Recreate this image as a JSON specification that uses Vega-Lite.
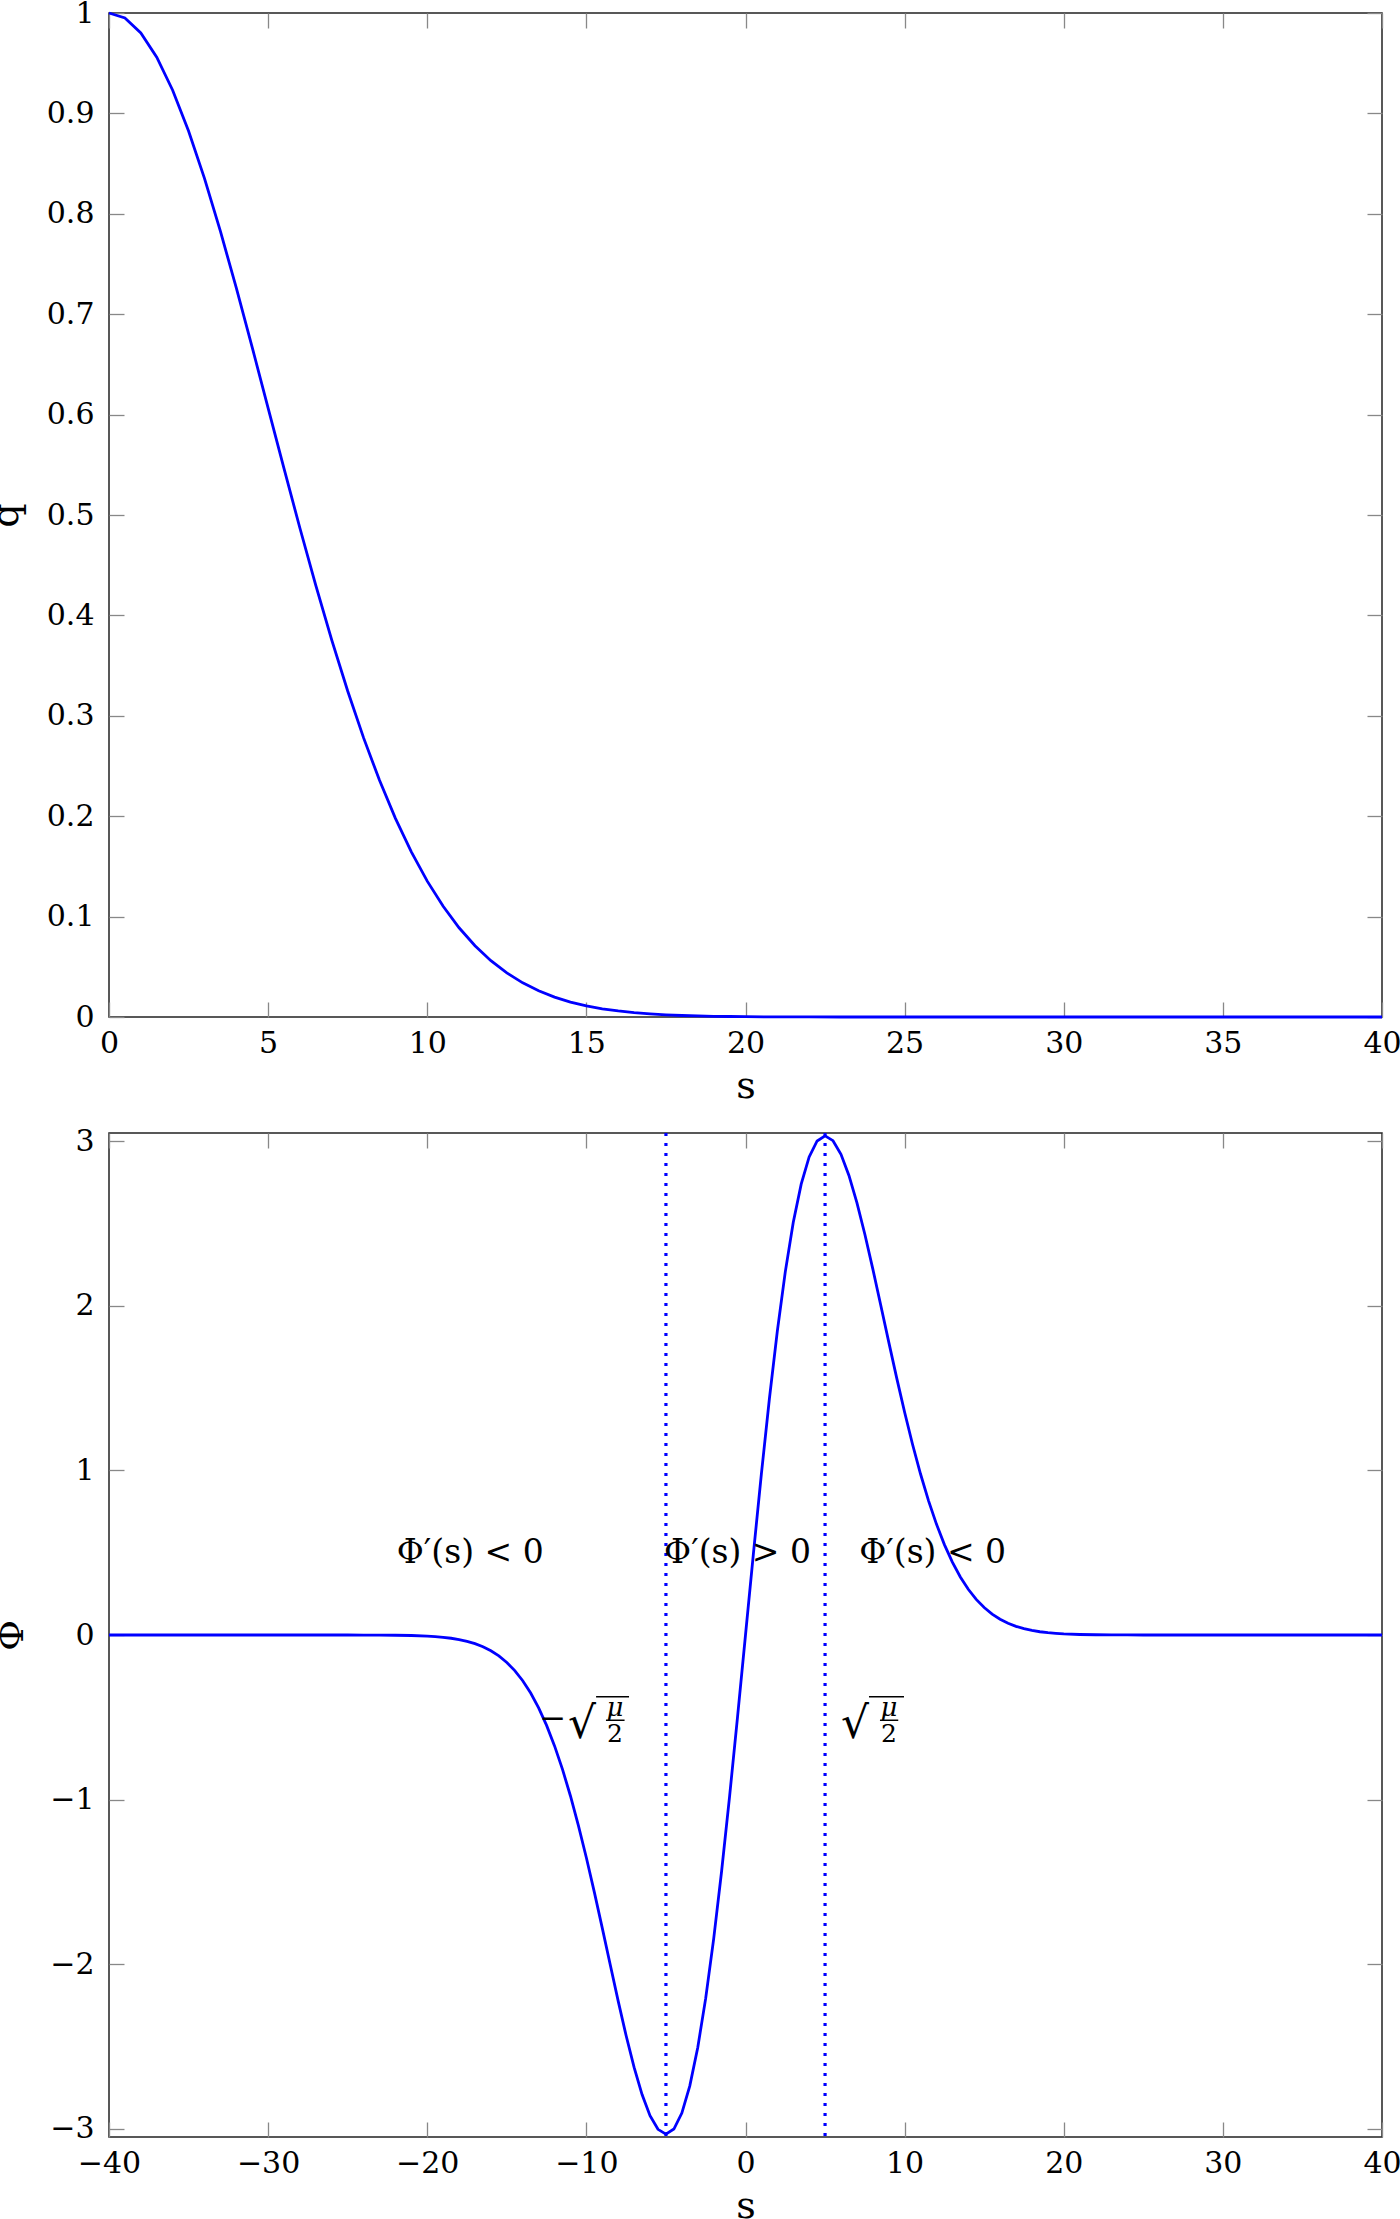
{
  "$schema": "https://vega.github.io/schema/vega-lite/v6.json",
  "padding": {"left": -14, "top": -3, "right": 0, "bottom": 0},
  "spacing": 116,
  "bounds": "flush",
  "config": {
    "view": {"stroke": "#222", "strokeWidth": 1.5},
    "font": "DejaVu Serif",
    "axis": {"domain": false, "grid": false, "ticks": true, "tickSize": -15, "tickColor": "#888", "tickWidth": 1.3,
      "labelFont": "DejaVu Serif", "labelFontSize": 30, "labelColor": "black", "labelFlush": false, "labelOverlap": false,
      "titleFont": "DejaVu Serif", "titleFontSize": 38, "titleFontWeight": "normal", "titleColor": "black"}
  },
  "datasets": {
    "q": [
      {"s": 0, "q": 1}, {"s": 0.5, "q": 0.995}, {"s": 1, "q": 0.9802}, {"s": 1.5, "q": 0.956}, {"s": 2, "q": 0.9231},
      {"s": 2.5, "q": 0.8825}, {"s": 3, "q": 0.8353}, {"s": 3.5, "q": 0.7827}, {"s": 4, "q": 0.7261}, {"s": 4.5, "q": 0.667},
      {"s": 5, "q": 0.6065}, {"s": 5.5, "q": 0.5461}, {"s": 6, "q": 0.4868}, {"s": 6.5, "q": 0.4296}, {"s": 7, "q": 0.3753},
      {"s": 7.5, "q": 0.3247}, {"s": 8, "q": 0.278}, {"s": 8.5, "q": 0.2357}, {"s": 9, "q": 0.1979}, {"s": 9.5, "q": 0.1645},
      {"s": 10, "q": 0.1353}, {"s": 10.5, "q": 0.1103}, {"s": 11, "q": 0.0889}, {"s": 11.5, "q": 0.071}, {"s": 12, "q": 0.0561},
      {"s": 12.5, "q": 0.0439}, {"s": 13, "q": 0.034}, {"s": 13.5, "q": 0.0261}, {"s": 14, "q": 0.0198}, {"s": 14.5, "q": 0.0149},
      {"s": 15, "q": 0.0111}, {"s": 15.5, "q": 0.0082}, {"s": 16, "q": 0.006}, {"s": 16.5, "q": 0.0043}, {"s": 17, "q": 0.0031},
      {"s": 17.5, "q": 0.0022}, {"s": 18, "q": 0.0015}, {"s": 18.5, "q": 0.0011}, {"s": 19, "q": 0.0007}, {"s": 19.5, "q": 0.0005},
      {"s": 20, "q": 0.0003}, {"s": 21, "q": 0.0001}, {"s": 22, "q": 0.0001}, {"s": 23, "q": 0}, {"s": 25, "q": 0},
      {"s": 30, "q": 0}, {"s": 35, "q": 0}, {"s": 40, "q": 0}
    ],
    "phi": [
      {"s": -40, "phi": 0}, {"s": -35, "phi": 0}, {"s": -30, "phi": 0}, {"s": -26, "phi": 0}, {"s": -25, "phi": -0.0001},
      {"s": -24, "phi": -0.0002}, {"s": -23, "phi": -0.0006}, {"s": -22, "phi": -0.0014}, {"s": -21, "phi": -0.0031}, {"s": -20, "phi": -0.0067},
      {"s": -19.5, "phi": -0.0098}, {"s": -19, "phi": -0.0139}, {"s": -18.5, "phi": -0.0198}, {"s": -18, "phi": -0.0277}, {"s": -17.5, "phi": -0.0383},
      {"s": -17, "phi": -0.0525}, {"s": -16.5, "phi": -0.0713}, {"s": -16, "phi": -0.0957}, {"s": -15.5, "phi": -0.1269}, {"s": -15, "phi": -0.1667},
      {"s": -14.5, "phi": -0.2163}, {"s": -14, "phi": -0.2778}, {"s": -13.5, "phi": -0.3526}, {"s": -13, "phi": -0.4427}, {"s": -12.5, "phi": -0.5493},
      {"s": -12, "phi": -0.6736}, {"s": -11.5, "phi": -0.8166}, {"s": -11, "phi": -0.9781}, {"s": -10.5, "phi": -1.1576}, {"s": -10, "phi": -1.3534},
      {"s": -9.5, "phi": -1.5625}, {"s": -9, "phi": -1.7811}, {"s": -8.5, "phi": -2.0038}, {"s": -8, "phi": -2.2243}, {"s": -7.5, "phi": -2.4349},
      {"s": -7, "phi": -2.6272}, {"s": -6.5, "phi": -2.7921}, {"s": -6, "phi": -2.9205}, {"s": -5.5, "phi": -3.0034}, {"s": -5, "phi": -3.0327},
      {"s": -4.5, "phi": -3.0014}, {"s": -4, "phi": -2.9046}, {"s": -3.5, "phi": -2.7395}, {"s": -3, "phi": -2.5058}, {"s": -2.5, "phi": -2.2063},
      {"s": -2, "phi": -1.8462}, {"s": -1.5, "phi": -1.434}, {"s": -1, "phi": -0.9802}, {"s": -0.5, "phi": -0.4975}, {"s": 0, "phi": 0},
      {"s": 0.5, "phi": 0.4975}, {"s": 1, "phi": 0.9802}, {"s": 1.5, "phi": 1.434}, {"s": 2, "phi": 1.8462}, {"s": 2.5, "phi": 2.2063},
      {"s": 3, "phi": 2.5058}, {"s": 3.5, "phi": 2.7395}, {"s": 4, "phi": 2.9046}, {"s": 4.5, "phi": 3.0014}, {"s": 5, "phi": 3.0327},
      {"s": 5.5, "phi": 3.0034}, {"s": 6, "phi": 2.9205}, {"s": 6.5, "phi": 2.7921}, {"s": 7, "phi": 2.6272}, {"s": 7.5, "phi": 2.4349},
      {"s": 8, "phi": 2.2243}, {"s": 8.5, "phi": 2.0038}, {"s": 9, "phi": 1.7811}, {"s": 9.5, "phi": 1.5625}, {"s": 10, "phi": 1.3534},
      {"s": 10.5, "phi": 1.1576}, {"s": 11, "phi": 0.9781}, {"s": 11.5, "phi": 0.8166}, {"s": 12, "phi": 0.6736}, {"s": 12.5, "phi": 0.5493},
      {"s": 13, "phi": 0.4427}, {"s": 13.5, "phi": 0.3526}, {"s": 14, "phi": 0.2778}, {"s": 14.5, "phi": 0.2163}, {"s": 15, "phi": 0.1667},
      {"s": 15.5, "phi": 0.1269}, {"s": 16, "phi": 0.0957}, {"s": 16.5, "phi": 0.0713}, {"s": 17, "phi": 0.0525}, {"s": 17.5, "phi": 0.0383},
      {"s": 18, "phi": 0.0277}, {"s": 18.5, "phi": 0.0198}, {"s": 19, "phi": 0.0139}, {"s": 19.5, "phi": 0.0098}, {"s": 20, "phi": 0.0067},
      {"s": 21, "phi": 0.0031}, {"s": 22, "phi": 0.0014}, {"s": 23, "phi": 0.0006}, {"s": 24, "phi": 0.0002}, {"s": 25, "phi": 0.0001},
      {"s": 26, "phi": 0}, {"s": 30, "phi": 0}, {"s": 35, "phi": 0}, {"s": 40, "phi": 0}
    ]
  },
  "vconcat": [
    {
      "width": 1273,
      "height": 1004,
      "layer": [
        {
          "data": {"name": "q"},
          "mark": {"type": "line", "color": "#0000ff", "strokeWidth": 2.8},
          "encoding": {
            "x": {"field": "s", "type": "quantitative", "scale": {"domain": [0, 40], "nice": false, "zero": false},
              "axis": {"orient": "bottom", "values": [0, 5, 10, 15, 20, 25, 30, 35, 40], "format": "d", "labelPadding": 26,
                "title": "s", "titleY": 80, "titleBaseline": "alphabetic"}},
            "y": {"field": "q", "type": "quantitative", "scale": {"domain": [0, 1], "nice": false, "zero": false},
              "axis": {"orient": "left", "values": [0, 0.1, 0.2, 0.3, 0.4, 0.5, 0.6, 0.7, 0.8, 0.9, 1], "format": "~g", "labelPadding": 30,
                "title": "q", "titleAngle": -90, "titleX": -92, "titleY": 502, "titleAlign": "center", "titleBaseline": "alphabetic"}}
          }
        },
        {
          "data": {"name": "q"},
          "mark": {"type": "point", "opacity": 0},
          "encoding": {
            "x": {"field": "s", "type": "quantitative", "scale": {"domain": [0, 40], "nice": false, "zero": false},
              "axis": {"orient": "top", "values": [0, 5, 10, 15, 20, 25, 30, 35, 40], "labels": false, "title": null}},
            "y": {"field": "q", "type": "quantitative", "scale": {"domain": [0, 1], "nice": false, "zero": false},
              "axis": {"orient": "right", "values": [0, 0.1, 0.2, 0.3, 0.4, 0.5, 0.6, 0.7, 0.8, 0.9, 1], "labels": false, "title": null}}
          }
        }
      ],
      "resolve": {"axis": {"x": "independent", "y": "independent"}}
    },
    {
      "width": 1273,
      "height": 1004,
      "layer": [
        {
          "data": {"name": "phi"},
          "mark": {"type": "line", "color": "#0000ff", "strokeWidth": 2.8},
          "encoding": {
            "x": {"field": "s", "type": "quantitative", "scale": {"domain": [-40, 40], "nice": false, "zero": false},
              "axis": {"orient": "bottom", "values": [-40, -30, -20, -10, 0, 10, 20, 30, 40], "format": "d", "labelPadding": 26,
                "title": "s", "titleY": 80, "titleBaseline": "alphabetic"}},
            "y": {"field": "phi", "type": "quantitative", "scale": {"domain": [-3.05, 3.05], "nice": false, "zero": false},
              "axis": {"orient": "left", "values": [-3, -2, -1, 0, 1, 2, 3], "format": "d", "labelPadding": 30,
                "title": "Φ", "titleAngle": -90, "titleX": -87, "titleY": 502, "titleAlign": "center", "titleBaseline": "alphabetic"}}
          }
        },
        {
          "data": {"name": "phi"},
          "mark": {"type": "point", "opacity": 0},
          "encoding": {
            "x": {"field": "s", "type": "quantitative", "scale": {"domain": [-40, 40], "nice": false, "zero": false},
              "axis": {"orient": "top", "values": [-40, -30, -20, -10, 0, 10, 20, 30, 40], "labels": false, "title": null}},
            "y": {"field": "phi", "type": "quantitative", "scale": {"domain": [-3.05, 3.05], "nice": false, "zero": false},
              "axis": {"orient": "right", "values": [-3, -2, -1, 0, 1, 2, 3], "labels": false, "title": null}}
          }
        },
        {
          "data": {"values": [{"s": -5}, {"s": 5}]},
          "mark": {"type": "rule", "color": "#0000ff", "strokeWidth": 3.2, "strokeDash": [3, 7]},
          "encoding": {
            "x": {"field": "s", "type": "quantitative", "scale": {"domain": [-40, 40], "nice": false, "zero": false}, "axis": null}
          }
        },
        {
          "data": {"values": [
            {"s": -17.3, "y": 0.5, "t": "Φ′(s) < 0"},
            {"s": -0.5, "y": 0.5, "t": "Φ′(s) > 0"},
            {"s": 11.76, "y": 0.5, "t": "Φ′(s) < 0"}
          ]},
          "mark": {"type": "text", "font": "DejaVu Serif", "fontSize": 33, "align": "center", "baseline": "middle", "color": "black"},
          "encoding": {
            "x": {"field": "s", "type": "quantitative", "scale": {"domain": [-40, 40], "nice": false, "zero": false}, "axis": null},
            "y": {"field": "y", "type": "quantitative", "scale": {"domain": [-3.05, 3.05], "nice": false, "zero": false}, "axis": null},
            "text": {"field": "t"}
          }
        },
        {
          "data": {"values": [
            {"s": -9.39, "y": -0.627, "t": "√"},
            {"s": 7.76, "y": -0.627, "t": "√"}
          ]},
          "mark": {"type": "text", "font": "DejaVu Serif", "fontSize": 44, "align": "right", "baseline": "alphabetic", "color": "black"},
          "encoding": {
            "x": {"field": "s", "type": "quantitative", "scale": {"domain": [-40, 40], "nice": false, "zero": false}, "axis": null},
            "y": {"field": "y", "type": "quantitative", "scale": {"domain": [-3.05, 3.05], "nice": false, "zero": false}, "axis": null},
            "text": {"field": "t"}
          }
        },
        {
          "data": {"values": [
            {"s": -12.1, "y": -0.512, "t": "−"}
          ]},
          "mark": {"type": "text", "font": "DejaVu Serif", "fontSize": 32, "align": "center", "baseline": "middle", "color": "black"},
          "encoding": {
            "x": {"field": "s", "type": "quantitative", "scale": {"domain": [-40, 40], "nice": false, "zero": false}, "axis": null},
            "y": {"field": "y", "type": "quantitative", "scale": {"domain": [-3.05, 3.05], "nice": false, "zero": false}, "axis": null},
            "text": {"field": "t"}
          }
        },
        {
          "data": {"values": [
            {"s": -8.2, "y": -0.445, "t": "μ"},
            {"s": 9.02, "y": -0.445, "t": "μ"}
          ]},
          "mark": {"type": "text", "font": "DejaVu Serif", "fontSize": 26, "fontStyle": "italic", "align": "center", "baseline": "middle", "color": "black"},
          "encoding": {
            "x": {"field": "s", "type": "quantitative", "scale": {"domain": [-40, 40], "nice": false, "zero": false}, "axis": null},
            "y": {"field": "y", "type": "quantitative", "scale": {"domain": [-3.05, 3.05], "nice": false, "zero": false}, "axis": null},
            "text": {"field": "t"}
          }
        },
        {
          "data": {"values": [
            {"s": -8.2, "y": -0.6, "t": "2"},
            {"s": 9.02, "y": -0.6, "t": "2"}
          ]},
          "mark": {"type": "text", "font": "DejaVu Serif", "fontSize": 25, "align": "center", "baseline": "middle", "color": "black"},
          "encoding": {
            "x": {"field": "s", "type": "quantitative", "scale": {"domain": [-40, 40], "nice": false, "zero": false}, "axis": null},
            "y": {"field": "y", "type": "quantitative", "scale": {"domain": [-3.05, 3.05], "nice": false, "zero": false}, "axis": null},
            "text": {"field": "t"}
          }
        },
        {
          "data": {"values": [
            {"s": -9.39, "s2": -7.32, "y": -0.375},
            {"s": 7.76, "s2": 9.96, "y": -0.375},
            {"s": -8.77, "s2": -7.6, "y": -0.518},
            {"s": 8.45, "s2": 9.6, "y": -0.518}
          ]},
          "mark": {"type": "rule", "color": "black", "strokeWidth": 1.5},
          "encoding": {
            "x": {"field": "s", "type": "quantitative", "scale": {"domain": [-40, 40], "nice": false, "zero": false}, "axis": null},
            "x2": {"field": "s2"},
            "y": {"field": "y", "type": "quantitative", "scale": {"domain": [-3.05, 3.05], "nice": false, "zero": false}, "axis": null}
          }
        }
      ],
      "resolve": {"axis": {"x": "independent", "y": "independent"}}
    }
  ]
}
